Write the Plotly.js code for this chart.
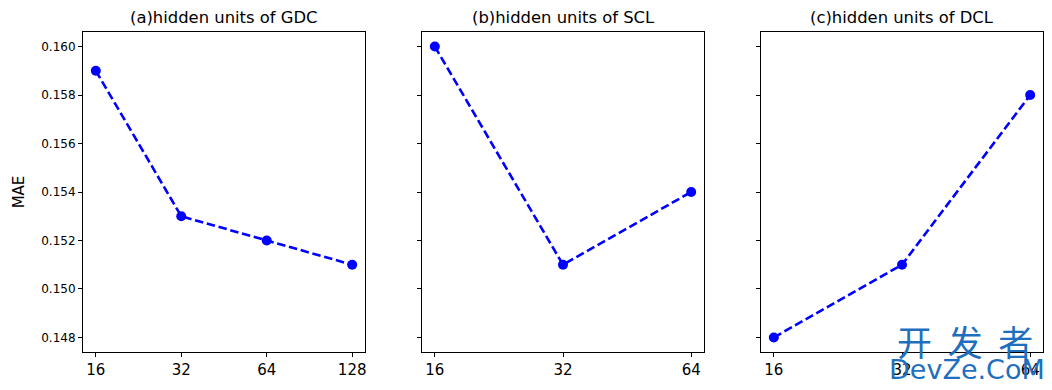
<!DOCTYPE html>
<html><head><meta charset="utf-8">
<script src="https://cdn.plot.ly/plotly-3.0.1.min.js"></script>
<style>body{margin:0;padding:0;background:#fff}#c{width:1052px;height:390px}</style>
</head><body><div id="c"></div>
<script>
const titles = ["(a)hidden units of GDC", "(b)hidden units of SCL", "(c)hidden units of DCL"];
const unitsGDC = [16, 32, 64, 128];
const maeGDC = [0.159, 0.153, 0.152, 0.151];
const unitsSCL = [16, 32, 64];
const maeSCL = [0.160, 0.151, 0.154];
const unitsDCL = [16, 32, 64];
const maeDCL = [0.148, 0.151, 0.158];
const yTicks = [0.148, 0.150, 0.152, 0.154, 0.156, 0.158, 0.160];
const yTickText = yTicks.map(v => v.toFixed(3));
const yLabel = "MAE";

(function () {
const W = 1052, H = 390;
const panels = [[83, 365], [422, 704], [761, 1043]];
const pTop = 32, pBottom = 352;
const ydom = [(H - pBottom) / H, (H - pTop) / H];
const F = "DejaVu Sans, sans-serif";

const xs = [unitsGDC, unitsSCL, unitsDCL];
const ys = [maeGDC, maeSCL, maeDCL];

const traces = xs.map((x, i) => ({
  x: x, y: ys[i], type: 'scatter', mode: 'lines+markers',
  xaxis: i === 0 ? 'x' : 'x' + (i + 1), yaxis: i === 0 ? 'y' : 'y' + (i + 1),
  line: {color: '#0000ff', width: 2.6, dash: '8.5px,3.7px'},
  marker: {color: '#0000ff', size: 10}, showlegend: false, cliponaxis: false
}));

const layout = {
  width: W, height: H, margin: {l: 0, r: 0, t: 0, b: 0},
  paper_bgcolor: '#fff', plot_bgcolor: '#fff', font: {family: F, color: '#000'},
  annotations: [], showlegend: false
};
function l2(v) { return Math.log10(Math.pow(2, v)); }
xs.forEach((x, i) => {
  const s = i === 0 ? '' : String(i + 1);
  const lo = Math.log2(x[0]), hi = Math.log2(x[x.length - 1]);
  const m = (hi - lo) * 0.05;
  layout['xaxis' + s] = {
    domain: [panels[i][0] / W, panels[i][1] / W], anchor: 'y' + s, type: 'log',
    range: [l2(lo - m), l2(hi + m)], tickvals: x, ticktext: x.map(String),
    ticks: 'outside', ticklen: 4, tickwidth: 1, tickcolor: '#000',
    showline: true, linecolor: '#000', linewidth: 1, mirror: true,
    showgrid: false, zeroline: false, tickfont: {size: 15, family: F, color: '#000'}
  };
  layout['yaxis' + s] = {
    domain: ydom, anchor: 'x' + s, range: [0.1474, 0.1606],
    tickvals: yTicks, ticktext: yTickText, showticklabels: i === 0,
    ticks: 'outside', ticklen: 4, tickwidth: 1, tickcolor: '#000',
    showline: true, linecolor: '#000', linewidth: 1, mirror: true,
    showgrid: false, zeroline: false, tickfont: {size: 12, family: F, color: '#000'}
  };
  layout.annotations.push({
    text: titles[i], xref: 'paper', yref: 'paper',
    x: (panels[i][0] + panels[i][1]) / 2 / W, y: (H - 29) / H,
    xanchor: 'center', yanchor: 'bottom', showarrow: false,
    font: {size: 16.4, family: F, color: '#000'}
  });
});
layout.yaxis.title = {text: yLabel, font: {size: 15, family: F, color: '#000'}, standoff: 12};
layout.annotations.push({
  text: "开  发  者", xref: 'paper', yref: 'paper', x: 965 / W, y: (H - 340) / H,
  xanchor: 'center', yanchor: 'middle', showarrow: false,
  font: {size: 35, family: "Noto Sans CJK SC", color: '#1f6fbf'}
});
layout.annotations.push({
  text: "DevZe.CoM", xref: 'paper', yref: 'paper', x: 967 / W, y: (H - 369) / H,
  xanchor: 'center', yanchor: 'middle', showarrow: false,
  font: {size: 27, family: F, color: '#1f6fbf'}
});
Plotly.newPlot('c', traces, layout, {staticPlot: true});
})();
</script></body></html>
